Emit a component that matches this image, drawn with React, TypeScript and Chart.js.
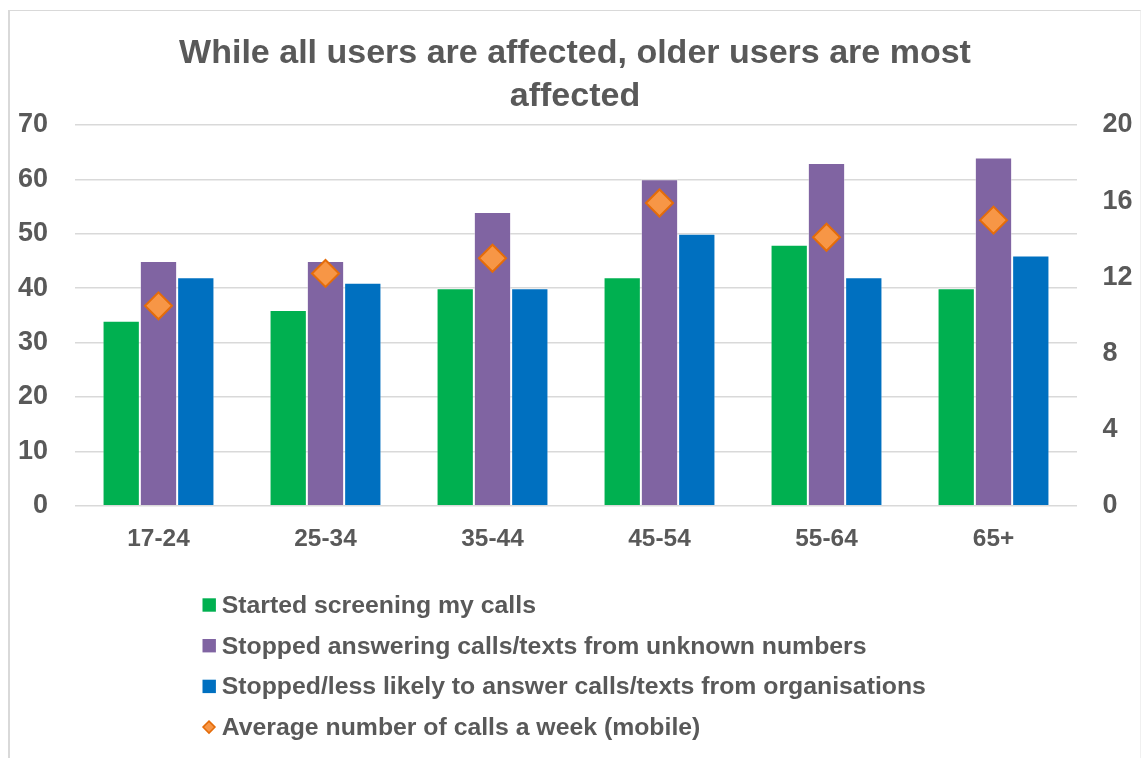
import React, { useEffect, useRef } from "react";
import { Chart, registerables } from "chart.js";

Chart.register(...registerables);

const categories = ["17-24", "25-34", "35-44", "45-54", "55-64", "65+"];
const startedScreening = [34, 36, 40, 42, 48, 40];
const stoppedUnknown = [45, 45, 54, 60, 63, 64];
const stoppedOrganisations = [42, 41, 40, 50, 42, 46];
const avgCallsWeek = [10.5, 12.2, 13.0, 15.9, 14.1, 15.0];

const seriesLabels = [
  "Started screening my calls",
  "Stopped answering calls/texts from unknown numbers",
  "Stopped/less likely to answer calls/texts from organisations",
  "Average number of calls a week (mobile)",
];
const titleLines = ["While all users are affected, older users are most", "affected"];
const leftTicks = [0, 10, 20, 30, 40, 50, 60, 70];
const rightTicks = [0, 4, 8, 12, 16, 20];

const TEXT = "#595959";
const FONT = "'Liberation Sans', Arial, sans-serif";

const legendPlugin = {
  id: "customLegend",
  afterDraw(chart: any) {
    const ctx = chart.ctx;
    const startY = chart.height - 153;
    const step = 40.7;
    const boxX = 192.5;
    const textX = 211.7;
    ctx.save();
    ctx.font = `bold 24.8px ${FONT}`;
    ctx.textBaseline = "middle";
    ctx.textAlign = "left";
    chart.data.datasets.forEach((ds: any, i: number) => {
      const y = startY + i * step;
      if (ds.type === "line") {
        const r = 6;
        const cx = boxX + 6.5;
        ctx.beginPath();
        ctx.moveTo(cx, y - r);
        ctx.lineTo(cx + r, y);
        ctx.lineTo(cx, y + r);
        ctx.lineTo(cx - r, y);
        ctx.closePath();
        ctx.fillStyle = ds.backgroundColor;
        ctx.fill();
        ctx.lineWidth = 1.5;
        ctx.strokeStyle = ds.borderColor;
        ctx.stroke();
      } else {
        ctx.fillStyle = ds.backgroundColor;
        ctx.fillRect(boxX, y - 6.7, 13.4, 13.4);
      }
      ctx.fillStyle = TEXT;
      ctx.fillText(ds.label, textX, y + 1);
    });
    ctx.restore();
  },
};

export default function App() {
  const ref = useRef<HTMLCanvasElement | null>(null);
  useEffect(() => {
    if (!ref.current) return;
    const chart = new Chart(ref.current, {
      type: "bar",
      data: {
        labels: categories,
        datasets: [
          {
            type: "bar",
            label: seriesLabels[0],
            data: startedScreening,
            backgroundColor: "#00B050",
            borderColor: "rgba(255,255,255,0.35)",
            borderWidth: 1,
            yAxisID: "y",
            order: 1,
          },
          {
            type: "bar",
            label: seriesLabels[1],
            data: stoppedUnknown,
            backgroundColor: "#8064A2",
            borderColor: "rgba(255,255,255,0.35)",
            borderWidth: 1,
            yAxisID: "y",
            order: 1,
          },
          {
            type: "bar",
            label: seriesLabels[2],
            data: stoppedOrganisations,
            backgroundColor: "#0070C0",
            borderColor: "rgba(255,255,255,0.35)",
            borderWidth: 1,
            yAxisID: "y",
            order: 1,
          },
          {
            type: "line",
            label: seriesLabels[3],
            data: avgCallsWeek,
            showLine: false,
            pointStyle: "rectRot",
            pointRadius: 13.5,
            pointHoverRadius: 13.5,
            backgroundColor: "#F79646",
            borderColor: "#E46C0A",
            borderWidth: 2,
            yAxisID: "y1",
            order: 0,
          },
        ] as any,
      },
      options: {
        animation: false,
        responsive: false,
        maintainAspectRatio: false,
        layout: { padding: { left: 0, right: 0, top: 0, bottom: 194 } },
        datasets: {
          bar: { categoryPercentage: 0.67, barPercentage: 1.0 },
        } as any,
        plugins: {
          legend: { display: false },
          tooltip: { enabled: false },
          title: {
            display: true,
            text: titleLines,
            color: TEXT,
            font: { family: FONT, size: 34, weight: "bold", lineHeight: 1.27 },
            padding: { top: 21, bottom: 6.6 },
          },
        },
        scales: {
          x: {
            grid: { display: false },
            border: { display: false },
            ticks: {
              color: TEXT,
              padding: 10.5,
              font: { family: FONT, size: 24.4, weight: "bold" },
            },
          },
          y: {
            position: "left",
            min: 0,
            max: 70,
            afterBuildTicks: (s: any) => {
              s.ticks = leftTicks.map((v) => ({ value: v }));
            },
            afterFit: (s: any) => {
              s.width = 65;
            },
            grid: { color: "#d9d9d9", lineWidth: 1.5, drawTicks: false },
            border: { display: false },
            ticks: {
              color: TEXT,
              padding: 27,
              font: { family: FONT, size: 27, weight: "bold" },
            },
          },
          y1: {
            position: "right",
            min: 0,
            max: 20,
            afterBuildTicks: (s: any) => {
              s.ticks = rightTicks.map((v) => ({ value: v }));
            },
            afterFit: (s: any) => {
              s.width = 63;
            },
            grid: { display: false, drawTicks: false },
            border: { display: false },
            ticks: {
              color: TEXT,
              padding: 25.5,
              font: { family: FONT, size: 27, weight: "bold" },
            },
          },
        },
      } as any,
      plugins: [legendPlugin],
    });
    return () => chart.destroy();
  }, []);

  return (
    <div
      style={{
        position: "absolute",
        left: 8,
        top: 10,
        width: 1133,
        height: 748,
        boxSizing: "border-box",
        borderTop: "1px solid #d9d9d9",
        borderLeft: "2px solid #d9d9d9",
        borderRight: "1px solid #f0f0f0",
        background: "#fff",
      }}
    >
      <canvas ref={ref} width={1130} height={747} style={{ display: "block" }} />
    </div>
  );
}
